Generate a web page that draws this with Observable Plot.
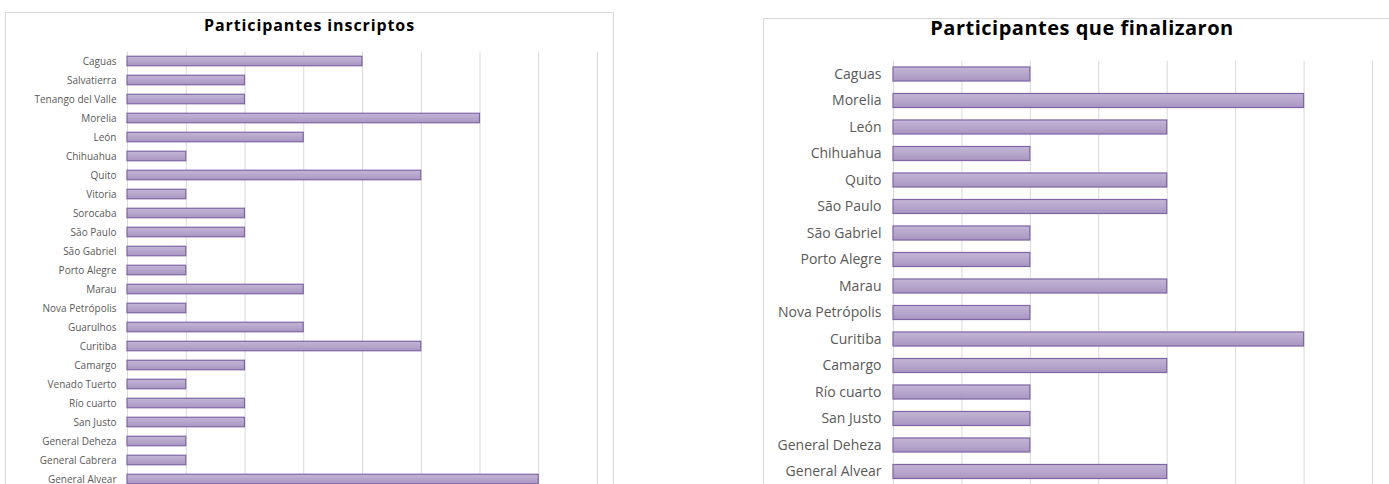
<!DOCTYPE html>
<html>
<head>
<meta charset="utf-8">
<script src="https://cdn.jsdelivr.net/npm/d3@7"></script>
<script src="https://cdn.jsdelivr.net/npm/@observablehq/plot@0.6"></script>
<style>
  body { margin: 0; background: #fff; }
  #wrap { position: relative; width: 1389px; height: 484px; overflow: hidden; font-family: "Open Sans", Lato, sans-serif; }
  .frame { position: absolute; border: 1px solid #d9d9d9; box-sizing: border-box; }
  .title { position: absolute; text-align: center; font-weight: bold; color: #000; }
  .plot { position: absolute; top: 0; }
</style>
</head>
<body>
<div id="wrap">
  <div class="frame" style="left:5px; top:12px; width:609px; height:500px;"></div>
  <div class="frame" style="left:763px; top:18px; width:700px; height:500px;"></div>
  <div class="title" style="left:5px; width:609px; top:14px; font-size:16px; letter-spacing:0.9px;">Participantes inscriptos</div>
  <div class="title" style="left:763px; width:638px; top:14px; font-size:20px; letter-spacing:0.5px;">Participantes que finalizaron</div>
  <div id="left" class="plot" style="left:0px;"></div>
  <div id="right" class="plot" style="left:620px;"></div>
</div>
<script>
const leftCities = ["Caguas","Salvatierra","Tenango del Valle","Morelia","León","Chihuahua","Quito","Vitoria","Sorocaba","São Paulo","São Gabriel","Porto Alegre","Marau","Nova Petrópolis","Guarulhos","Curitiba","Camargo","Venado Tuerto","Río cuarto","San Justo","General Deheza","General Cabrera","General Alvear"];
const leftValues = [4,2,2,6,3,1,5,1,2,2,1,1,3,1,3,5,2,1,2,2,1,1,7];
const leftTicks = [0,1,2,3,4,5,6,7,8];

const rightCities = ["Caguas","Morelia","León","Chihuahua","Quito","São Paulo","São Gabriel","Porto Alegre","Marau","Nova Petrópolis","Curitiba","Camargo","Río cuarto","San Justo","General Deheza","General Alvear"];
const rightValues = [1,3,2,1,2,2,1,1,2,1,3,2,1,1,1,2];
const rightTicks = [0,0.5,1,1.5,2,2.5,3,3.5];

const barStroke = "#7f64a6";

function gradDefs(id) {
  return () => {
    const g = d3.create("svg:g");
    const lg = g.append("defs").append("linearGradient").attr("id", id)
      .attr("x1", 0).attr("y1", 0).attr("x2", 0).attr("y2", 1);
    lg.append("stop").attr("offset", "0%").attr("stop-color", "#c3b6d6");
    lg.append("stop").attr("offset", "100%").attr("stop-color", "#a996c2");
    return g.node();
  };
}

function makeChart(cities, values, ticks, opts) {
  const data = cities.map((c, i) => ({city: c, value: values[i]}));
  const n = cities.length;
  return Plot.plot({
    width: opts.width,
    height: 484,
    marginLeft: opts.marginLeft,
    marginRight: opts.marginRight,
    marginTop: opts.top,
    marginBottom: 0,
    style: {background: "transparent", fontFamily: "'Open Sans', Lato, sans-serif", fontSize: opts.fontSize + "px", color: "#595959", overflow: "visible"},
    x: {domain: [ticks[0], ticks[ticks.length - 1]], axis: null},
    y: {domain: cities, range: [opts.top, opts.top + opts.step * n], paddingInner: opts.pad, paddingOuter: opts.pad / 2, round: false, label: null},
    marks: [
      gradDefs(opts.gid),
      Plot.ruleX(ticks, {stroke: "#d9d9d9", strokeWidth: 1}),
      Plot.barX(data, {y: "city", x: "value", fill: `url(#${opts.gid})`, stroke: barStroke, strokeWidth: 1.2}),
      Plot.axisY({tickSize: 0, tickPadding: opts.tickPadding, fill: "#595959", fontSize: opts.fontSize, label: null})
    ]
  });
}

document.getElementById("left").appendChild(makeChart(leftCities, leftValues, leftTicks, {
  width: 613, marginLeft: 127, marginRight: 16, top: 51.5, step: 19, pad: 0.5, fontSize: 10, tickPadding: 11, gid: "gl"
}));
document.getElementById("right").appendChild(makeChart(rightCities, rightValues, rightTicks, {
  width: 769, marginLeft: 273, marginRight: 17, top: 60.75, step: 26.5, pad: 0.47, fontSize: 14, tickPadding: 12, gid: "gr"
}));
</script>
</body>
</html>
